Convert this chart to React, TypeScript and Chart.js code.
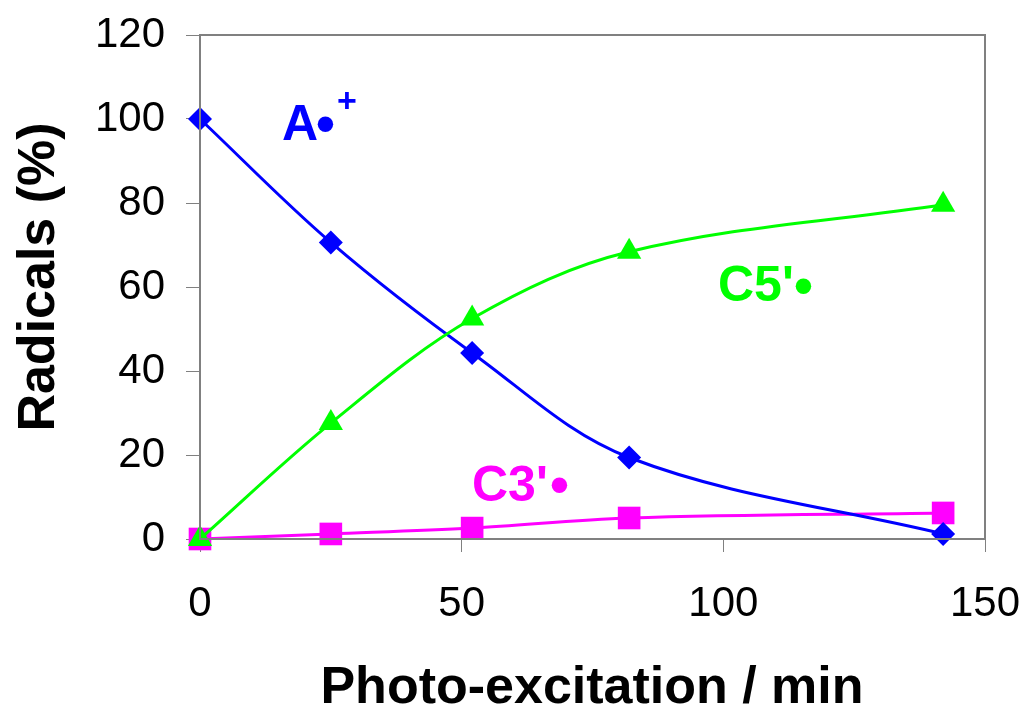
import React, { useEffect, useRef } from "react";
import { Chart, registerables } from "chart.js";

Chart.register(...registerables);

const timesMin = [0, 25, 52, 82, 142];
const aRadical = [100, 70.6, 44.3, 19.4, 1.2];
const c5Radical = [0, 27.6, 52.5, 68.4, 79.6];
const c3Radical = [0, 1.2, 2.6, 5.0, 6.2];
const yTicks = [0, 20, 40, 60, 80, 100, 120];
const xTicks = [0, 50, 100, 150];

const toPoints = (ys: number[]) => timesMin.map((x, i) => ({ x, y: ys[i] }));

const BLUE = "#0000FF";
const GREEN = "#00FF00";
const MAGENTA = "#FF00FF";
const GRAY = "#808080";
const FONT = "'Liberation Sans', Arial, sans-serif";

const overlay = {
  id: "overlay",
  afterDatasetsDraw(chart: any) {
    const { ctx, chartArea } = chart;
    ctx.save();
    ctx.strokeStyle = GRAY;
    ctx.lineWidth = 2;
    ctx.strokeRect(chartArea.left, chartArea.top, chartArea.right - chartArea.left, chartArea.bottom - chartArea.top);
    ctx.restore();
  },
  afterDraw(chart: any) {
    const { ctx } = chart;
    ctx.save();
    ctx.textBaseline = "alphabetic";
    ctx.textAlign = "left";
    // A•+
    ctx.fillStyle = BLUE;
    ctx.font = `bold 50px ${FONT}`;
    ctx.fillText("A", 282, 140);
    ctx.font = `bold 54px ${FONT}`;
    ctx.fillText("•", 316, 142);
    ctx.font = `bold 34px ${FONT}`;
    ctx.fillText("+", 337, 112);
    // C5'•
    ctx.fillStyle = GREEN;
    ctx.font = `bold 50px ${FONT}`;
    ctx.fillText("C5'", 718, 301);
    ctx.font = `bold 54px ${FONT}`;
    ctx.fillText("•", 794, 304);
    // C3'•
    ctx.fillStyle = MAGENTA;
    ctx.font = `bold 50px ${FONT}`;
    ctx.fillText("C3'", 472, 501);
    ctx.font = `bold 54px ${FONT}`;
    ctx.fillText("•", 550, 503);
    // axis titles
    ctx.fillStyle = "#000";
    ctx.font = `bold 52px ${FONT}`;
    ctx.textAlign = "center";
    ctx.fillText("Photo-excitation / min", 592, 703);
    ctx.translate(54, 277);
    ctx.rotate(-Math.PI / 2);
    ctx.fillText("Radicals (%)", 0, 0);
    ctx.restore();
  },
};

export default function App() {
  const ref = useRef<HTMLCanvasElement | null>(null);
  useEffect(() => {
    document.body.style.margin = "0";
    const ds = (label: string, data: number[], color: string, style: string, r: number) => ({
      label,
      data: toPoints(data),
      borderColor: color,
      backgroundColor: color,
      borderWidth: 3,
      pointStyle: style,
      pointRadius: r,
      pointBorderWidth: 0,
      tension: 0.35,
      clip: false as any,
    });
    const chart = new Chart(ref.current!, {
      type: "line",
      data: {
        datasets: [
          ds("C5'•", c5Radical, GREEN, "triangle", 14),
          ds("A•+", aRadical, BLUE, "rectRot", 12),
          ds("C3'•", c3Radical, MAGENTA, "rect", 16),
        ],
      },
      options: {
        animation: false,
        responsive: false,
        devicePixelRatio: 1,
        layout: { padding: { top: 35, right: 43, left: 0, bottom: 0 } },
        plugins: { legend: { display: false }, tooltip: { enabled: false } },
        scales: {
          x: {
            type: "linear",
            min: 0,
            max: 150,
            afterBuildTicks: (s: any) => { s.ticks = xTicks.map((v) => ({ value: v })); },
            afterFit: (s: any) => { s.height = 169; s.paddingLeft = 0; s.paddingRight = 0; },
            border: { display: false },
            grid: { drawOnChartArea: false, drawTicks: true, tickLength: 13, color: GRAY, lineWidth: 1 },
            ticks: { color: "#000", font: { family: FONT, size: 42 }, padding: 27, maxRotation: 0 },
          },
          y: {
            min: 0,
            max: 120,
            afterBuildTicks: (s: any) => { s.ticks = yTicks.map((v) => ({ value: v })); },
            afterFit: (s: any) => { s.width = 200; s.paddingTop = 0; s.paddingBottom = 0; },
            border: { display: false },
            grid: { drawOnChartArea: false, drawTicks: true, tickLength: 14, color: GRAY, lineWidth: 1 },
            ticks: { color: "#000", font: { family: FONT, size: 42 }, padding: 21 },
          },
        },
      },
      plugins: [overlay],
    } as any);
    return () => chart.destroy();
  }, []);
  return <canvas ref={ref} width={1028} height={708} style={{ display: "block", width: 1028, height: 708 }} />;
}
